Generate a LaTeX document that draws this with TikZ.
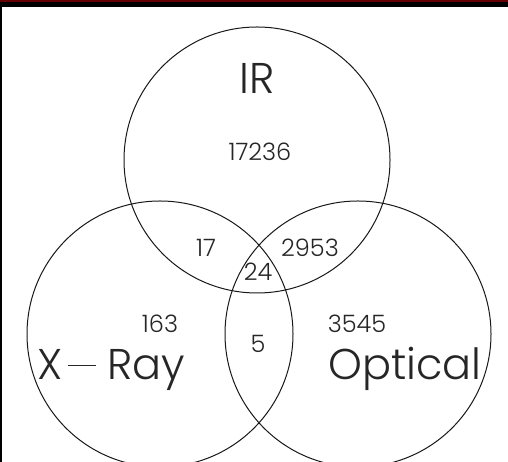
\documentclass[tikz,border=0pt]{standalone}
\usepackage{fontspec}
\newfontfamily\lbl{Poppins Light}
\begin{document}
\begin{tikzpicture}[x=1pt,y=1pt,
  ring/.style={draw=black!90,line width=1pt},
  big/.style={inner sep=0pt,font=\lbl\fontsize{43}{43}\selectfont,text=black!85},
  num/.style={inner sep=0pt,anchor=base,font=\lbl\fontsize{24}{24}\selectfont,text=black!85}]
\useasboundingbox (0,0) rectangle (508,462);
\fill[black] (0,0) rectangle (508,462);
\fill[red!40!black] (0,460) rectangle (508,462);
\fill[white] (2,0) rectangle (508,455);
\begin{scope}
\clip (2,-2) rectangle (508,455);
\draw[ring] (257,302) circle (133);
\draw[ring] (160,128) circle (133);
\draw[ring] (358,128) circle (133);
\end{scope}
\node[big,anchor=base] (ir) at (257,368) {IR};
\node[big,anchor=base west] (xr) at (37,82) {X\hspace{6pt}{\color{black!85}\rule[14pt]{28pt}{1.3pt}}\hspace{11pt}Ray};
\node[big,anchor=base west] (op) at (328,82) {Optical};
\node[num] (n1) at (260,301) {17236};
\node[num] (n2) at (206,205) {17};
\node[num] (n3) at (310,205) {2953};
\node[num] (n4) at (258,181) {24};
\node[num] (n5) at (160,129) {163};
\node[num] (n6) at (258,109) {5};
\node[num] (n7) at (357,129) {3545};
\end{tikzpicture}
\end{document}
